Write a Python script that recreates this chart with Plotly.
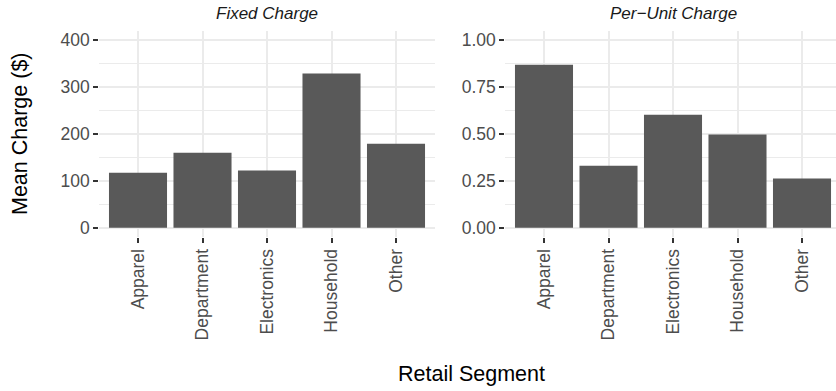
import plotly.graph_objects as go

segments = ["Apparel", "Department", "Electronics", "Household", "Other"]
fixed_charge = [117, 160, 122, 329, 179]
per_unit_charge = [0.870, 0.331, 0.603, 0.497, 0.262]
panel_titles = ["Fixed Charge", "Per\u2212Unit Charge"]
x_title = "Retail Segment"
y_title = "Mean Charge ($)"

W, H = 836, 391
FONT = "Liberation Sans, Arial, sans-serif"
BAR = "#595959"
GRID = "#EBEBEB"
TICKC = "#4D4D4D"

def px_x(p):
    return p / W

def px_y(p):
    return 1 - p / H

fig = go.Figure()
fig.add_trace(go.Bar(x=segments, y=fixed_charge, marker_color=BAR, width=0.9,
                     marker_line_width=0, xaxis="x", yaxis="y", showlegend=False))
fig.add_trace(go.Bar(x=segments, y=per_unit_charge, marker_color=BAR, width=0.9,
                     marker_line_width=0, xaxis="x2", yaxis="y2", showlegend=False))

spacing = 64.5
left_l = 99.3
left_r = left_l + 5.2 * spacing
right_l = 505.3
right_r = 836
top, bottom = 31, 237

xcommon = dict(type="category", showgrid=True, gridcolor=GRID, gridwidth=2,
               zeroline=False, showline=False, ticks="outside", ticklen=5,
               tickwidth=2, tickcolor="#333333", tickangle=-90,
               ticklabelstandoff=-1,
               tickfont=dict(family=FONT, size=17.5, color=TICKC),
               automargin=False, fixedrange=True)
ycommon = dict(showgrid=True, gridcolor=GRID, gridwidth=2, zeroline=False,
               showline=False, ticks="outside", ticklen=5, tickwidth=2,
               tickcolor="#333333",
               tickfont=dict(family=FONT, size=17.5, color=TICKC),
               automargin=False, fixedrange=True)

fig.update_layout(
    width=W, height=H,
    margin=dict(l=0, r=0, t=0, b=0),
    paper_bgcolor="white", plot_bgcolor="white",
    bargap=0.1,
    hovermode=False,
    xaxis=dict(domain=[px_x(left_l), px_x(left_r)], range=[-0.6, 4.6],
               anchor="y", **xcommon),
    xaxis2=dict(domain=[px_x(right_l), px_x(right_r)],
                range=[-0.6, -0.6 + (right_r - right_l) / spacing],
                anchor="y2", **xcommon),
    yaxis=dict(domain=[px_y(bottom), px_y(top)], range=[-20, 420],
               tickmode="array", tickvals=[0, 100, 200, 300, 400],
               ticktext=["0", "100", "200", "300", "400"],
               minor=dict(tickmode="array", tickvals=[50, 150, 250, 350],
                          showgrid=True, gridcolor=GRID, gridwidth=1, ticklen=0),
               anchor="x", **ycommon),
    yaxis2=dict(domain=[px_y(bottom), px_y(top)], range=[-0.05, 1.05],
                tickmode="array", tickvals=[0, 0.25, 0.5, 0.75, 1.0],
                ticktext=["0.00", "0.25", "0.50", "0.75", "1.00"],
                minor=dict(tickmode="array", tickvals=[0.125, 0.375, 0.625, 0.875],
                           showgrid=True, gridcolor=GRID, gridwidth=1, ticklen=0),
                anchor="x2", **ycommon),
)

annos = [
    dict(text="<i>%s</i>" % panel_titles[0], x=px_x((left_l + left_r) / 2), y=px_y(14),
         font=dict(family=FONT, size=17, color="#1A1A1A")),
    dict(text="<i>%s</i>" % panel_titles[1], x=px_x(right_l + 2.6 * spacing), y=px_y(14),
         font=dict(family=FONT, size=17, color="#1A1A1A")),
    dict(text=x_title, x=px_x(471), y=px_y(374),
         font=dict(family=FONT, size=21.5, color="black")),
    dict(text=y_title, x=px_x(20), y=px_y((top + bottom) / 2), textangle=-90,
         font=dict(family=FONT, size=21.5, color="black")),
]
for a in annos:
    fig.add_annotation(xref="paper", yref="paper", showarrow=False,
                       xanchor="center", yanchor="middle", **a)

fig.write_html("out.html", config={"displayModeBar": False, "staticPlot": True},
               post_script="document.body.style.margin='0';document.body.style.overflow='hidden';")
